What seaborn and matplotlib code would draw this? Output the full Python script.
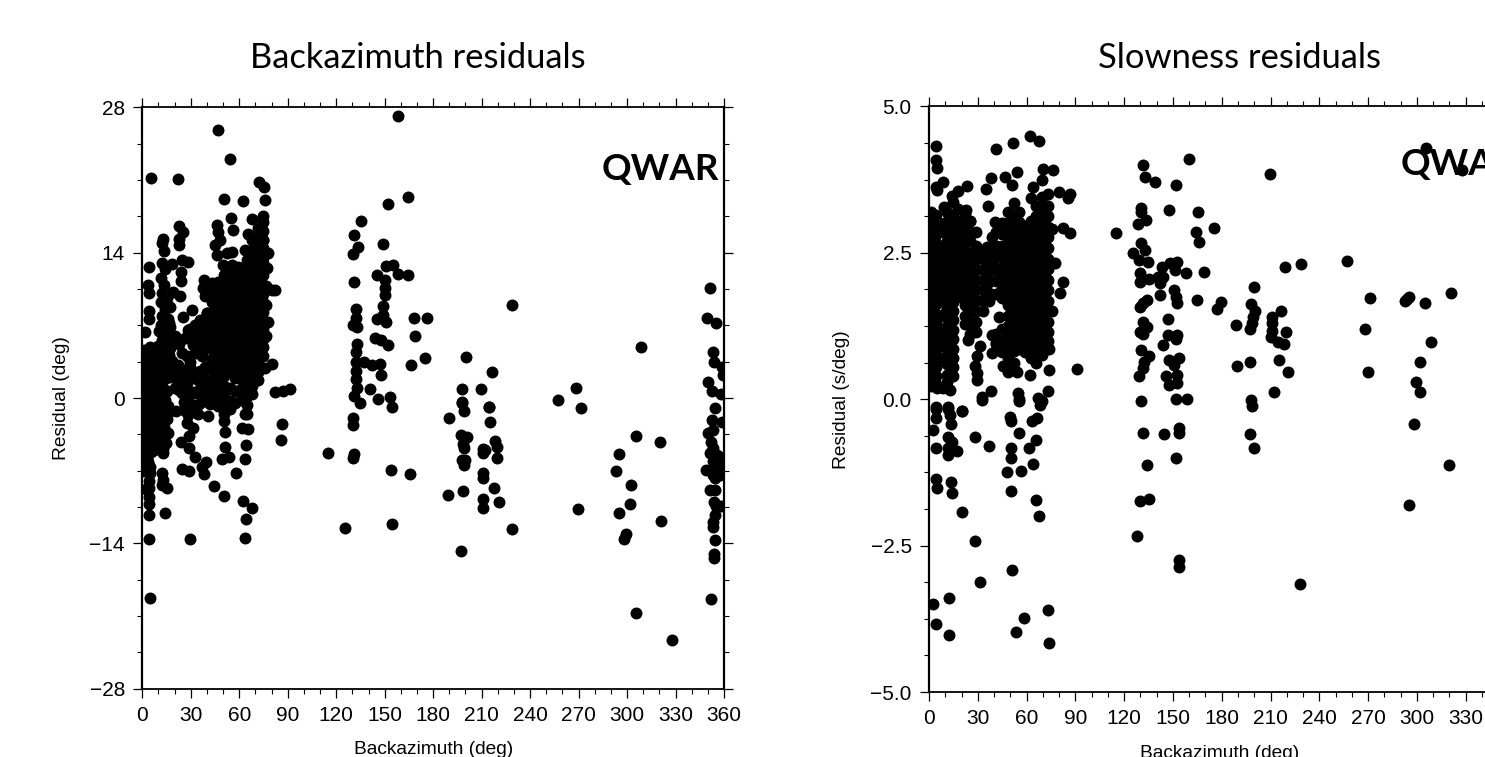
import matplotlib
matplotlib.use("Agg")
import matplotlib.pyplot as plt
import pandas as pd
import seaborn as sns
from matplotlib.ticker import MultipleLocator

# Backazimuth residuals: filled columns of the dense part
baz_col_az = [47, 50.5, 54, 57.5, 61, 64.5, 68, 71.5, 74.5, 43]
baz_col_res = [
    [11.2, 10.3, 9.4, 8.6, 7.7, 6.9, 6.0, 5.2, 4.4, 3.5, 2.6, 1.8, 0.9, 0.1, -0.8],
    [11.8, 10.9, 10.0, 9.1, 8.2, 7.3, 6.5, 5.6, 4.7, 3.9, 3.0, 2.1, 1.2, 0.4, -0.6, -1.5, -2.2],
    [12.2, 11.3, 10.5, 9.6, 8.8, 7.9, 7.0, 6.2, 5.3, 4.4, 3.4, 2.6, 1.0, -0.3, -1.1],
    [11.9, 11.0, 10.1, 9.2, 8.4, 7.5, 6.6, 5.8, 4.9, 4.1, 3.2, 1.9, 0.7, -0.5],
    [12.4, 11.5, 10.6, 9.7, 8.9, 8.0, 7.1, 6.3, 5.4, 4.5, 3.6, 2.7, 1.8, 0.9, -0.2],
    [13.3, 12.4, 11.5, 10.7, 9.8, 8.9, 8.1, 7.2, 6.3, 5.4, 4.6, 3.7, 2.8, 2.0, 1.1, 0.2, -0.7, -1.5],
    [15.2, 14.3, 13.4, 12.5, 11.7, 10.8, 9.9, 9.1, 8.2, 7.3, 6.4, 5.6, 4.7, 3.8, 3.0, 2.2, 1.2, 0.4],
    [16.4, 15.5, 14.7, 13.8, 12.9, 12.0, 11.2, 10.3, 9.4, 8.6, 7.7, 6.8, 6.0, 5.1, 4.2, 3.3, 2.5, 1.7],
    [17.0, 16.1, 15.2, 14.4, 13.5, 12.6, 11.8, 10.9, 10.0, 9.2, 8.3, 7.5, 6.6, 5.7, 4.9, 4.0],
    [11.1, 10.2, 9.2, 8.3, 7.4, 6.5, 5.6, 4.7, 3.8, 2.7, 1.5, 0.4],
]

baz_near_north = [
    (1.2, 4.6), (4.5, 4.9), (7.2, 4.3), (2.5, 3.9), (6.1, 3.4), (1.0, 3.2), (4.2, 2.9), (8.0, 2.6), (2.0, 2.2),
    (6.0, 1.9), (3.5, 1.4), (1.0, 1.1), (7.8, 0.9), (4.6, 0.4), (2.0, 0.2), (6.4, -0.2), (1.0, -0.8), (3.9, -1.0),
    (7.6, -1.1), (2.2, -1.7), (5.7, -1.9), (0.9, -2.5), (3.9, -2.8), (7.4, -2.6), (2.0, -3.4), (5.8, -3.6),
    (1.0, -4.2), (3.8, -4.4), (7.5, -4.3), (2.3, -5.1), (5.6, -5.2), (1.2, -5.8), (3.7, -6.2), (2.7, -5.8),
    (4.6, -7.25), (4.3, -8.7), (2.0, -8.8), (4.1, -9.5), (4.3, -10.2), (4.3, -11.3), (4.3, -13.6), (4.6, -19.3),
    (3.7, -6.3), (2.7, -5.8), (4.4, 12.65), (3.8, 10.9), (4.4, 10.1), (4.4, 8.4), (4.4, 7.6), (1.9, 6.4),
    (5.4, 21.2), (22.3, 21.1), (3, 4.2), (7, 3.1), (3, 2.9), (1.5, 2.0), (7.3, 1.7), (3, 0.9),
    (6, 0.8), (1.5, -1.5), (8.5, -1.9), (3, -2.2), (6, -2.9), (8.5, -3.2), (3.5, -3.5),
    (5, -4), (9, -4.5), (7, -5), (3, -7), (1, -7), (5, -6.6), (2, -6.9), (4, -8),
    (9, 3), (9, 1), (9, -0.5),
]
baz_column_13 = [
    (12.2, 13), (14, 12.4), (11.6, 11.6), (13.6, 10.9), (12, 10.1), (15, 9.6), (11.8, 9.2), (14, 8.6), (12, 7.9),
    (15.6, 7.6), (11.5, 7), (13.8, 6.4), (16, 6), (11.9, 5.6), (14.5, 5), (12.2, 4.4), (16.8, 4.1), (10.6, 3.8),
    (13.8, 3.5), (15.8, 2.8), (12, 2.6), (14.4, 1.9), (10.8, 1.6), (12.6, 1), (15.3, 0.7), (11.4, 0.1), (14, -0.2),
    (16.2, -0.8), (10.6, -1), (13, -1.4), (15.4, -2), (11.2, -2.3), (13.6, -2.8), (10.1, -3.2), (16, -3.4),
    (12.4, -3.7), (14.9, -4.3), (10.6, -4.6), (12.8, -4.9), (12.6, -5.3), (14, -11.05), (15.5, -8.7), (12, -8.4),
    (12.6, -7.9), (12, -7.2), (12.8, 15.3), (12.4, 14.9), (13.4, 14.2), (18.2, 12.9), (17, 6.8), (16.5, 7.2),
    (18, 5.6), (17.5, 2), (10, 0.8), (10, 5), (10.4, 6.5),
]
baz_between = [
    (22.5, 16.6), (25, 16.0), (22.7, 15.3), (22.7, 14.7), (24.4, 13.3), (28.5, 13.1), (24, 12.1), (23.8, 11.3),
    (19.2, 10.2), (23.3, 9.8), (17.1, 8.8), (30.6, 8.5), (25.4, 7.8), (28.5, 6.55), (26.4, 5.8), (38.4, 11.4),
    (37.8, 10.6), (38.8, 9.8), (35.7, 7.2), (39.9, 8.2), (45, 8.5), (39.8, 8.2), (35.7, 7.5), (32.6, 7), (29.5, 6.6),
    (21.2, 2.06), (26.4, 2.06), (29.5, 3.0), (27.4, 4), (31.2, 5.1), (35.7, 4.95), (40.8, 4.8), (28.5, 5.75),
    (17.1, 4.8), (24.3, 4.3), (28.5, 0.3), (24.3, 0.46), (31.6, 0.62), (30.5, 2.06), (34.7, 1.74), (27.4, 1.4),
    (37.8, 2.06), (39.8, 1.1), (42.9, 1.74), (45, 0.8), (39.8, 0.3), (32.6, 4.3), (36.7, 4), (29.5, 3.5),
    (28.5, -1.6), (31.2, -1.15), (34.7, -1.5), (40.8, -1.7), (27.4, -2.44), (31.6, -2.9), (29.1, -3.65),
    (23.9, -4.2), (28.9, -4.85), (20.8, -1.25), (17.1, -1.3), (29.3, -13.55), (24.4, -6.85), (29.1, -7.06),
    (38.4, -7.3), (37.1, -6.6), (39.2, -6.2), (32.6, -5.7), (44.6, -8.5),
    (18.5, 3.6), (20, 1), (22, 3.2), (23, 5.2), (20.5, 6), (19, 5.5), (24, 2.8), (22.5, 0.8),
    (26, 0.9), (33, 5.5), (36, 5.6), (39, 5.4), (42, 5.6), (44, 5), (40, 7.2), (37, 6.3), (42, 7.8),
    (44, 6.8), (34, 6.5), (19, 2.9), (23, 1.1), (26, -0.4), (30, -0.6), (33, 0.5),
    (36, 0.9), (36, 2.6), (39, 3), (42, 3.2), (44, 3), (38, -0.3), (42, -0.6), (35, -0.6), (26, -1.2),
]
baz_blob_edge = [
    (46.6, 25.8), (54.5, 23.0), (72.4, 20.8), (75.3, 20.3), (76.1, 19.1), (50.6, 19.2), (62.1, 19.0), (54.7, 17.3),
    (55.9, 16.2), (67.7, 17.2), (74.5, 17.5), (46.4, 16.7), (47, 16.0), (45, 14.7), (48, 15.2), (46, 13.8), (52.2, 14),
    (55.3, 14.1), (50.1, 12.8), (55.3, 12.8), (59.2, 12.65), (65.6, 15.8), (72.8, 16), (63.5, 14.3), (69.7, 14.9),
    (74.9, 15.2), (78, 14), (77, 12.5), (74.9, 13), (82.1, 10.4), (80, 10.4), (78, 7.35), (80, 3.25), (72.8, 2.9),
    (82.1, 0.55), (86.9, 0.67), (91.4, 0.84), (86.7, -2.5), (85.8, -4.0), (50.3, -9.4), (57.8, -7.2), (63.4, -5.9),
    (64.2, -4.5), (49.1, -5.85), (53.8, -5.65), (51.2, -4.75), (51, -3.25), (65.6, -3.0), (61.5, -2.9), (63.6, -1.5),
    (62.1, -9.9), (67.7, -10.6), (64.2, -11.65), (63.4, -13.5), (76.5, 10.8), (76.5, 9), (76.5, 6), (76.2, 2.9),
]
baz_mid = [
    (158.4, 27.2), (164.4, 19.4), (151.9, 18.7), (135.3, 17.05), (131.2, 15.7), (133.5, 14.5), (130.6, 13.9),
    (149, 14.8), (131, 11.2), (145, 11.8), (151, 12.7), (155, 12.8), (158, 11.9), (164.5, 11.8), (150, 11.4),
    (150, 10.6), (150, 9.9), (149, 8.9), (132.5, 8.6), (132, 7.7), (130.5, 7), (133, 6.8), (145, 7.6), (149, 8),
    (151, 7.3), (168, 7.7), (176, 7.7), (168.8, 6), (148, 5.6), (144, 5.8), (152, 5.1), (133, 5.2), (132, 4.4),
    (132, 3.5), (132, 2.6), (132, 1.8), (133, 1), (131, 0.2), (135, -0.5), (137, 3.5), (142, 3.2), (147, 3.3),
    (175, 3.9), (166, 3.2), (148, 2.2), (141, 0.9), (146, -0.1), (153, 0.1), (154.3, -0.9), (130.6, -1.96),
    (130.6, -2.6), (114.7, -5.3), (131.2, -5.4), (130.6, -5.75), (153.9, -6.9), (165.9, -7.3), (125.4, -12.55),
    (154.3, -12.1),
]
baz_far = [
    (229, 9.0), (200.1, 3.95), (216.6, 2.47), (198, 0.87), (209.4, 0.87), (198, -0.35), (214.5, -0.84), (257, -0.16),
    (268.2, 0.93), (271.5, -1.0), (308.4, 4.95), (189.8, -1.9), (197.8, -0.5), (199, -1.25), (214.6, -0.9),
    (215.2, -2.3), (197, -3.56), (200.7, -3.8), (198.7, -4.4), (199, -4.8), (218.3, -4.15), (219.3, -4.75),
    (219.3, -5.75), (210.6, -4.95), (212, -5), (211, -5.3), (197.6, -6), (200, -6), (199.2, -6.45), (210.6, -7.2),
    (210.6, -7.7), (217.8, -8.64), (189, -9.35), (198.2, -9), (210.6, -9.76), (211, -10.6), (220.9, -10),
    (228.6, -12.65), (197.2, -14.7), (269.8, -10.66), (295, -5.4), (305.3, -3.66), (320.2, -4.27), (293, -7.03),
    (302.2, -8.35), (301.8, -10.25), (295, -11.05), (320.8, -11.85), (299.3, -13.1), (298, -13.6), (305.5, -20.7),
    (328, -23.3),
]
baz_edge_360 = [
    (351.1, 10.6), (349.6, 7.67), (354.8, 7.2), (353, 4.4), (354, 3.5), (358.5, 3.0), (359.2, 2.2), (350.2, 1.5),
    (352.3, 0.67), (358, 0.38), (354.4, -1.0), (352.3, -2.1), (358.5, -2.3), (349.9, -3.34), (353.4, -3.1),
    (351.7, -4.2), (353.4, -4.85), (351.3, -5.3), (357.5, -5.65), (353.4, -6.1), (357.5, -6), (355.4, -5.5),
    (352.3, -6.8), (357.5, -6.8), (348.6, -6.93), (353.4, -7.4), (357.5, -7.4), (354.4, -7.7), (351.3, -8.9),
    (354.4, -8.9), (353.8, -10), (355, -10.4), (358.1, -10.4), (354.4, -11.3), (353, -11.9), (353, -12.4),
    (354.4, -13.7), (354, -15), (354, -15.4), (351.9, -19.4),
]

# Slowness residuals: filled columns of the dense part
slow_col_az = [1.5, 4.5, 7.0, 9, 11, 14.5, 18, 22, 25.5, 29, 33, 37, 41, 45, 48.5, 52, 55.5, 59, 62.5, 66, 69.5, 73]
slow_col_res = [
    [3.2, 3.05, 2.9, 2.72, 2.6, 2.44, 2.3, 2.15, 2.0, 1.87, 1.7, 1.55, 1.42, 1.25, 1.12, 0.95, 0.8, 0.66, 0.5, 0.35, 0.22],
    [3.15, 2.95, 2.82, 2.66, 2.5, 2.36, 2.2, 2.07, 1.9, 1.75, 1.62, 1.46, 1.3, 1.17, 1.0, 0.86, 0.7, 0.55, 0.4, 0.26],
    [2.85, 2.6, 2.35, 2.12, 1.95, 1.7, 1.42, 1.2, 0.9, 0.7],
    [3.0, 2.5, 2.2, 1.8, 1.45, 1.1, 0.7],
    [3.2, 3.02, 2.85, 2.7, 2.52, 2.36, 2.2, 2.05, 1.88, 1.72, 1.55, 1.4, 1.25, 1.08, 0.92, 0.75, 0.6, 0.42, 0.3],
    [3.15, 2.96, 2.8, 2.62, 2.48, 2.3, 2.14, 1.98, 1.82, 1.66, 1.5, 1.35, 1.18, 1.02, 0.86, 0.7, 0.55, 0.4],
    [3.25, 3.05, 2.88, 2.7, 2.54, 2.38, 2.2, 2.05, 1.86, 1.74],
    [3.18, 3.0, 2.82, 2.66, 2.48, 2.3, 2.12, 1.96, 1.8, 1.6, 1.42, 1.28],
    [3.05, 2.86, 2.7, 2.5, 2.35, 2.18, 2.0, 1.82, 1.65, 1.48, 1.3, 1.12],
    [2.85, 2.62, 2.4, 2.22, 2.04, 1.86, 1.68, 1.5, 1.32, 1.14],
    [2.4, 2.2, 2.04, 1.86, 1.7, 1.5],
    [2.55, 2.36, 2.18, 2.0, 1.82, 1.68],
    [2.85, 2.62, 2.42, 2.2, 2.02, 1.8, 1.12, 0.96],
    [3.0, 2.82, 2.62, 2.44, 2.25, 2.06, 1.88, 1.72, 1.2, 1.0, 0.82],
    [3.2, 3.0, 2.85, 2.66, 2.5, 2.3, 2.14, 1.95, 1.78, 1.6, 1.42, 1.25, 1.06, 0.88, 0.7],
    [3.35, 3.15, 2.98, 2.8, 2.62, 2.44, 2.26, 2.08, 1.9, 1.72, 1.54, 1.36, 1.18, 1.0, 0.82, 0.62],
    [3.2, 3.02, 2.84, 2.66, 2.5, 2.3, 2.12, 1.94, 1.76, 1.58, 1.4, 1.22, 1.04, 0.86],
    [2.95, 2.78, 2.6, 2.42, 2.24, 2.06, 1.88, 1.7, 1.52, 1.34, 1.16, 0.98, 0.8],
    [3.05, 2.85, 2.68, 2.5, 2.3, 2.14, 1.96, 1.78, 1.6, 1.42, 1.24, 1.06, 0.88, 0.7],
    [3.3, 3.12, 2.94, 2.76, 2.58, 2.4, 2.22, 2.04, 1.86, 1.68, 1.5, 1.32, 1.14, 0.96, 0.78, 0.62],
    [3.45, 3.26, 3.08, 2.9, 2.72, 2.54, 2.36, 2.18, 2.0, 1.82, 1.64, 1.46, 1.28, 1.1, 0.92, 0.76],
    [3.5, 3.3, 3.12, 2.94, 2.76, 2.58, 2.4, 2.22, 2.04, 1.86, 1.68, 1.5, 1.32, 1.14, 1.0],
]

slow_blob_edge = [
    (4.1, 4.33), (4.1, 4.08), (4.7, 3.94), (8.8, 3.70), (4.3, 3.63), (4.7, 3.57), (13.9, 3.46), (18, 3.56),
    (23.2, 3.64), (14.6, 3.37), (41, 4.27), (51.9, 4.38), (62.1, 4.5), (67.9, 4.41), (37.9, 3.77), (35, 3.58),
    (36.5, 3.3), (53.9, 3.87), (46.7, 3.79), (50.8, 3.66), (69.9, 3.93), (76, 3.91), (69.3, 3.74), (64.2, 3.63),
    (80.2, 3.54), (86.7, 3.5), (85.7, 3.43), (62.5, 3.43), (82.6, 2.93), (86.7, 2.83), (90.8, 0.51), (82.2, 2.0),
    (80.6, 1.81), (77.5, 2.32), (40.6, 3.03), (38.5, 2.77), (35.9, 2.6), (9.5, 3.28), (23, 3.23), (25, 3.05),
    (4.1, -0.13), (11.9, -0.13), (20.1, -0.2), (32.4, 0.03), (37.9, 0.14), (54.9, 0.11), (55.4, 0), (67.2, 0.02),
    (69.3, -0.04), (73.4, 0.14), (62.1, 0.41), (74, 0.49), (53.9, 0.47), (45.7, 0.56), (48.8, 0.47), (38.5, 0.78),
    (44.7, 0.8), (24.2, 1.01), (31.4, 0.91), (29.3, 0.73), (28.3, 0.57), (29.7, 0.44), (29.3, 0.33), (12.9, 0.15),
    (4.7, 0.19), (8.8, 0.19), (12.9, 0.39), (74, 0.85), (41, 0.95), (35.5, 2.1), (39, 2.3), (43, 2.5), (39, 1.1),
    (43, 1.4), (31, 2.55), (75.5, 2.9), (75.5, 1.5),
]
slow_low_north = [
    (2.3, -0.53), (4.1, -0.17), (4.3, -0.33), (11.9, -0.17), (12.9, -0.27), (13.3, -0.42), (20.3, -0.2), (11.9, -0.65),
    (13.9, -0.73), (4.1, -0.84), (11.9, -0.84), (17.4, -0.88), (11.5, -0.95), (28.1, -0.64), (37.1, -0.8), (4.1, -1.36),
    (4.7, -1.51), (13.3, -1.41), (13.9, -1.6), (20.3, -1.92), (28.5, -2.42), (31.4, -3.13), (2.3, -3.5), (4.1, -3.84),
    (12.3, -3.4), (12.5, -4.03), (51.3, -2.92), (58.6, -3.74), (53.5, -3.97), (73.4, -3.6), (73.8, -4.16), (49.8, -0.3),
    (50.2, -0.38), (55.6, -0.57), (63.1, -0.38), (66.2, -0.32), (65.6, -0.7), (61.7, -0.84), (50.2, -0.83), (50.2, -1.0),
    (48.2, -1.24), (56.4, -1.22), (64.2, -1.11), (50.4, -1.57), (65.6, -1.72), (67.4, -2.0), (32.4, -0.01),
    (55.4, -0.04), (68.3, -0.1),
]
slow_mid = [
    (114.8, 2.83), (131.4, 4.0), (132.8, 3.8), (139, 3.7), (151.9, 3.65), (160, 4.1), (130.4, 3.26), (130.2, 3.2),
    (133.5, 3.06), (128.7, 2.99), (147.6, 3.23), (165.2, 3.2), (164.2, 2.85), (166.2, 2.69), (130.2, 2.67),
    (132.8, 2.55), (125.3, 2.5), (129.4, 2.38), (134.9, 2.35), (143.1, 2.26), (148.2, 2.32), (152.3, 2.35),
    (151.3, 2.2), (157.9, 2.15), (130, 2.15), (130, 2.0), (135, 2.05), (141, 2.08), (144, 2.08), (142, 1.98),
    (150.7, 1.87), (151.9, 1.74), (152.3, 1.64), (142, 1.77), (165, 1.7), (133.9, 1.7), (131.8, 1.64), (129.8, 1.58),
    (147.2, 1.36), (131.8, 1.32), (133.9, 1.24), (131.8, 1.11), (129.8, 1.15), (147.2, 1.1), (152.3, 1.1), (151.9, 1.02),
    (144.1, 0.93), (130.2, 0.84), (135.5, 0.73), (132.2, 0.64), (131.4, 0.53), (129.4, 0.39), (147.8, 0.66), (154, 0.71),
    (150.7, 0.58), (145.8, 0.39), (152.3, 0.41), (152.3, 0.27), (147.8, 0.24), (130.4, -0.04), (151.7, 0), (158.5, 0),
    (131.4, -0.57), (144.7, -0.6), (154, -0.5), (154, -0.57), (151.9, -1.0), (133.9, -1.12), (129.8, -1.74),
    (135.5, -1.7), (128.1, -2.34), (154, -2.75), (153.8, -2.87),
]
slow_far = [
    (209.7, 3.84), (175.2, 2.93), (169.1, 2.17), (179.5, 1.66), (176.9, 1.54), (188.8, 1.27), (199.8, 1.91), (198, 1.63),
    (200.5, 1.51), (199.4, 1.41), (198.4, 1.3), (197.4, 1.19), (216.4, 1.51), (210.7, 1.41), (210.7, 1.3), (211.1, 1.17),
    (210.3, 1.06), (214.8, 0.98), (218.5, 0.95), (219.3, 1.14), (189.6, 0.56), (197.4, 0.63), (215.4, 0.66), (220.9, 0.47),
    (211.9, 0.12), (197.8, -0.01), (198.4, -0.11), (218.9, 2.26), (228.7, 2.31), (256.8, 2.36), (271.2, 1.73), (268.1, 1.2),
    (269.7, 0.46), (295.2, 1.74), (292.7, 1.68), (294, 1.71), (305, 1.64), (320.8, 1.82), (308.5, 0.97), (302.1, 0.64),
    (299.3, 0.3), (301.9, 0.13), (197.2, -0.6), (200, -0.83), (228.3, -3.16), (298, -0.43), (320, -1.12), (295, -1.81),
    (305.6, 4.28), (328, 3.91),
]

x_ticks = list(range(0, 361, 30))
baz_y_ticks = [-28, -14, 0, 14, 28]
slow_y_ticks = [-5.0, -2.5, 0.0, 2.5, 5.0]


def build_frame(col_az, col_res, groups):
    rows = [(a, r) for a, col in zip(col_az, col_res) for r in col]
    for g in groups:
        rows += g
    return pd.DataFrame(rows, columns=["az", "res"])


baz_df = build_frame(baz_col_az, baz_col_res,
                     [baz_near_north, baz_column_13, baz_between, baz_blob_edge, baz_mid, baz_far, baz_edge_360])
slow_df = build_frame(slow_col_az, slow_col_res, [slow_blob_edge, slow_low_north, slow_mid, slow_far])

W, H = 1485, 757
sns.set_theme(style="ticks")
fig = plt.figure(figsize=(W / 100, H / 100), dpi=100, facecolor="white")


def panel(df, box, y_ticks, y_minor, y_fmt, ylabel, ylabel_x, xlabel_y):
    left, top, right, bottom = box
    ax = fig.add_axes([left / W, (H - bottom) / H, (right - left) / W, (bottom - top) / H])
    sns.scatterplot(data=df, x="az", y="res", color="black", s=74, linewidth=0, ax=ax, legend=False)
    ax.set_xlim(0, 360)
    ax.set_ylim(y_ticks[0], y_ticks[-1])
    ax.set_xticks(x_ticks)
    ax.xaxis.set_minor_locator(MultipleLocator(10))
    ax.set_yticks(y_ticks)
    ax.yaxis.set_minor_locator(MultipleLocator(y_minor))
    ax.set_yticklabels([y_fmt.format(v).replace("-", "\u2212") for v in y_ticks])
    ax.tick_params(which="major", length=6.5, width=0.9, top=True, right=True, direction="out",
                   labelsize=15, pad=6, colors="black")
    ax.tick_params(which="minor", length=3.4, width=0.8, top=True, right=True, direction="out", colors="black")
    for name, sp in ax.spines.items():
        sp.set_visible(True)
        sp.set_color("black")
        sp.set_linewidth(1.6 if name in ("left", "right") else 1.3)
    for lab in ax.get_xticklabels() + ax.get_yticklabels():
        lab.set_fontfamily("Liberation Sans")
    ax.set_xlabel("")
    ax.set_ylabel("")
    fig.text((left + 582 / 2) / W, 1 - xlabel_y / H, "Backazimuth (deg)", ha="center", va="top",
             family="Liberation Sans", fontsize=13.8, color="black")
    fig.text(ylabel_x / W, 1 - (top + bottom) / 2 / H, ylabel, ha="center", va="center", rotation=90,
             family="Liberation Sans", fontsize=13.8, color="black")
    return ax


panel(baz_df, (142.3, 107.3, 724, 688.7), baz_y_ticks, 3.5, "{:d}", "Residual (deg)", 61, 741)
panel(slow_df, (929, 106.3, 1514.5, 692), slow_y_ticks, 0.625, "{:.1f}", "Residual (s/deg)", 842, 745)

fig.text(418 / W, 1 - 58 / H, "Backazimuth residuals", ha="center", va="center",
         family="Lato", fontsize=24.8, color="black")
fig.text(1239 / W, 1 - 58 / H, "Slowness residuals", ha="center", va="center",
         family="Lato", fontsize=24.8, color="black")
fig.text(602 / W, 1 - 180 / H, "QWAR", ha="left", va="baseline", family="Lato", weight="bold",
         fontsize=26.5, color="black", zorder=5)
fig.text(1401 / W, 1 - 175 / H, "QWAR", ha="left", va="baseline", family="Lato", weight="bold",
         fontsize=26.5, color="black", zorder=5)

fig.savefig("out.png", dpi=100)
